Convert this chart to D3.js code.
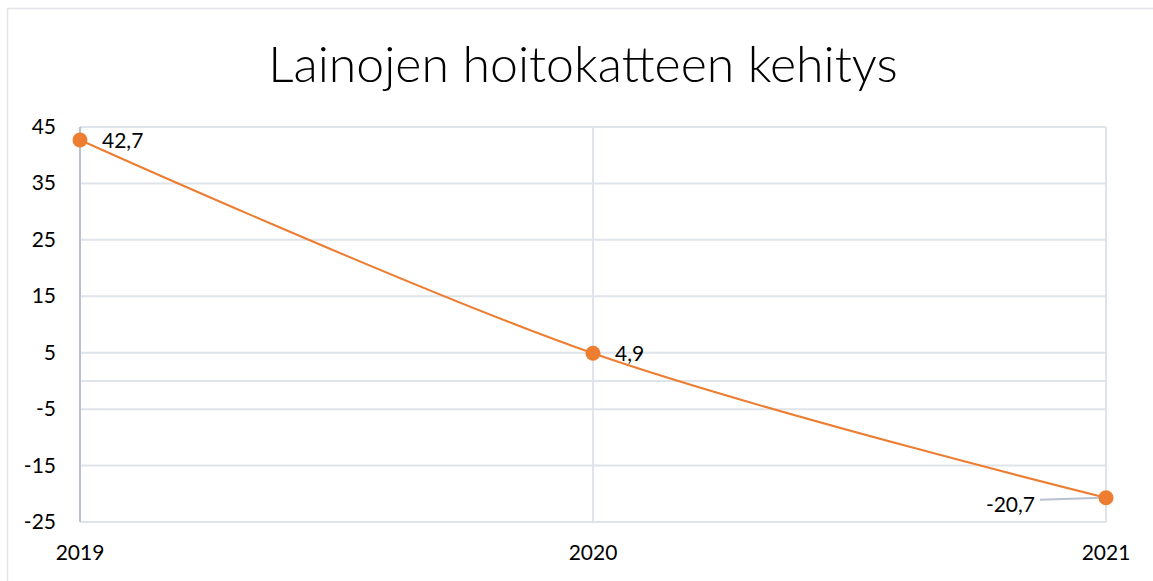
<!DOCTYPE html>
<html>
<head>
<meta charset="utf-8">
<script src="https://cdn.jsdelivr.net/npm/d3@7"></script>
<style>
  body { margin: 0; background: #fff; }
  svg text { font-family: Lato, "Open Sans", sans-serif; fill: #000; }
</style>
</head>
<body>
<div id="chart"></div>
<script>
// chart data
const years = ['2019', '2020', '2021'];
const cover = [42.7, 4.9, -20.7];
const yTicks = [45, 35, 25, 15, 5, -5, -15, -25];
const chartTitle = 'Lainojen hoitokatteen kehitys';

const W = 1153, H = 581;
const margin = {top: 127, right: 47, bottom: 59, left: 80};

const svg = d3.select('#chart').append('svg')
    .attr('width', W)
    .attr('height', H);

// outer chart frame (runs off right/bottom edge)
svg.append('rect')
    .attr('x', 7.5).attr('y', 8.5)
    .attr('width', W + 10).attr('height', H + 10)
    .attr('fill', 'none')
    .attr('stroke', '#e1e4ea')
    .attr('stroke-width', 1.5);

svg.append('text')
    .attr('x', 583).attr('y', 82)
    .attr('text-anchor', 'middle')
    .style('font-size', '50px')
    .style('font-weight', 300)
    .text(chartTitle);

const x = d3.scalePoint().domain(years).range([margin.left, W - margin.right]);
const y = d3.scaleLinear().domain([-25, 45]).range([H - margin.bottom, margin.top]);

// horizontal gridlines, incl. zero line
const g = svg.append('g');
g.selectAll('line.h')
    .data(yTicks.concat([0]))
    .join('line')
    .attr('x1', margin.left).attr('x2', W - margin.right)
    .attr('y1', d => y(d)).attr('y2', d => y(d))
    .attr('stroke', '#dfe3ea').attr('stroke-width', 2);

// vertical gridlines
g.selectAll('line.v')
    .data(years.slice(1))
    .join('line')
    .attr('x1', d => x(d)).attr('x2', d => x(d))
    .attr('y1', y(45)).attr('y2', y(-25))
    .attr('stroke', '#dfe3ea').attr('stroke-width', 2);

// y axis line
svg.append('line')
    .attr('x1', x('2019')).attr('x2', x('2019'))
    .attr('y1', y(45)).attr('y2', y(-25))
    .attr('stroke', '#b9c1cf').attr('stroke-width', 2);

// y tick labels
svg.selectAll('text.ytick')
    .data(yTicks)
    .join('text')
    .attr('class', 'ytick')
    .attr('x', 56)
    .attr('y', d => y(d) + 7)
    .attr('text-anchor', 'end')
    .style('font-size', '21px')
    .text(d => d);

// x labels
svg.selectAll('text.xtick')
    .data(years)
    .join('text')
    .attr('class', 'xtick')
    .attr('x', d => x(d))
    .attr('y', 560)
    .attr('text-anchor', 'middle')
    .style('font-size', '21px')
    .text(d => d);

const pts = years.map((d, i) => ({year: d, v: cover[i]}));

const line = d3.line()
    .x(d => x(d.year))
    .y(d => y(d.v))
    .curve(d3.curveCatmullRom.alpha(0));

svg.append('path')
    .datum(pts)
    .attr('d', line)
    .attr('fill', 'none')
    .attr('stroke', '#ed7d31')
    .attr('stroke-width', 2);

// leader line for last label
const last = pts[pts.length - 1];
svg.append('line')
    .attr('x1', x(last.year) - 66).attr('y1', y(last.v) + 2)
    .attr('x2', x(last.year) - 4).attr('y2', y(last.v))
    .attr('stroke', '#b9c1cf').attr('stroke-width', 2);

svg.selectAll('circle.pt')
    .data(pts)
    .join('circle')
    .attr('cx', d => x(d.year))
    .attr('cy', d => y(d.v))
    .attr('r', 7.5)
    .attr('fill', '#ed7d31');

const fmt = v => String(v).replace('.', ',');
svg.selectAll('text.lbl')
    .data(pts)
    .join('text')
    .attr('x', (d, i) => i < pts.length - 1 ? x(d.year) + 22 : x(d.year) - 71)
    .attr('y', d => y(d.v) + (d === last ? 14 : 8))
    .attr('text-anchor', (d, i) => i < pts.length - 1 ? 'start' : 'end')
    .style('font-size', '21px')
    .text(d => fmt(d.v));
</script>
</body>
</html>
